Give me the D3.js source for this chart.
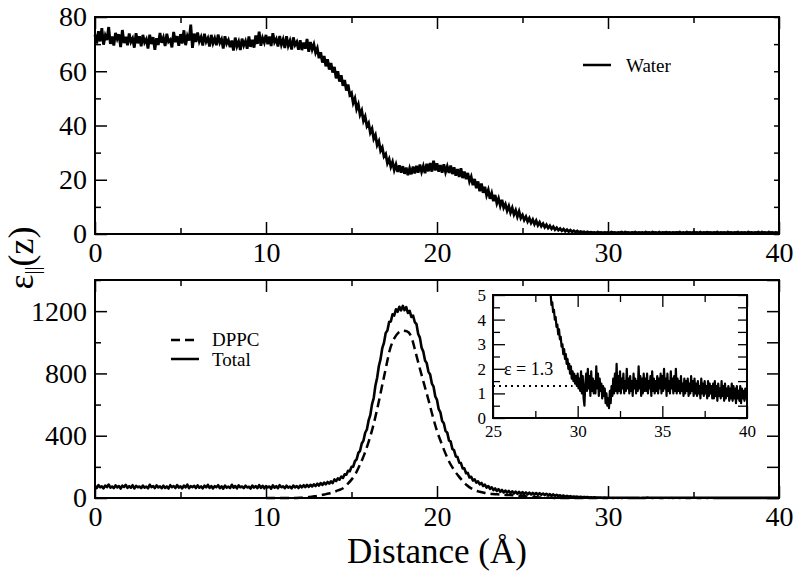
<!DOCTYPE html>
<html><head><meta charset="utf-8">
<script src="https://cdn.jsdelivr.net/npm/d3@7"></script>
<style>
body{margin:0;background:#fff}
svg{display:block}
</style>
</head><body>
<svg id="c" width="800" height="577" font-family="'Liberation Serif','DejaVu Serif','Times New Roman',serif"></svg>
<script>
// ---------- DATA ----------
// Water epsilon_parallel(z), sampled from z = 0 with step 0.1 Å
const waterStart = 0, waterStep = 0.1;
const waterValues = [
73.5,70.2,74.8,71.0,75.9,69.8,73.2,71.5,76.3,70.1,
72.8,69.5,74.1,71.9,73.6,68.9,75.2,70.4,72.7,69.6,
73.9,70.8,72.1,68.7,74.0,70.3,72.9,69.2,73.4,70.6,
71.8,68.4,73.5,70.0,72.6,67.9,72.2,69.7,74.1,70.5,
72.4,69.3,73.8,70.9,71.6,68.8,74.5,70.7,72.9,69.4,
73.7,70.2,75.1,69.6,73.0,71.3,77.2,68.6,73.9,70.8,
74.3,71.0,72.6,69.5,73.8,70.9,72.2,69.1,73.4,70.3,
72.1,69.6,73.5,70.5,71.8,68.4,72.9,70.2,71.5,68.9,
71.3,67.6,72.4,69.2,70.9,67.8,72.0,69.5,71.1,68.3,
72.8,69.0,71.6,68.7,73.2,70.1,74.6,69.4,72.3,70.6,
73.4,70.0,72.8,69.3,74.0,70.7,71.9,69.1,73.0,69.8,
71.7,68.6,72.9,69.4,71.2,68.0,72.5,69.7,70.8,67.9,
71.4,67.8,70.6,68.3,71.9,67.2,70.8,68.0,69.9,66.9,
68.5,64.8,67.0,63.2,65.6,61.8,64.4,60.6,63.0,59.5,
61.6,57.4,60.0,56.2,58.5,54.6,56.8,52.9,55.1,51.3,
52.0,48.3,50.0,46.1,47.8,44.0,45.5,41.7,43.3,39.8,
40.9,37.4,38.8,35.1,36.5,32.8,34.2,30.7,31.9,28.6,
29.5,26.1,27.6,24.8,26.6,23.6,25.6,22.9,25.3,22.6,
25.0,22.2,24.5,21.7,24.2,22.0,24.9,22.3,25.1,22.6,
25.6,22.9,25.0,22.4,25.9,23.1,26.2,23.0,27.0,23.4,
26.1,23.0,25.4,22.6,25.7,22.8,24.9,22.5,25.2,22.1,
24.6,21.5,23.9,21.0,24.2,20.6,23.0,20.2,22.5,19.4,
21.1,18.0,20.3,16.9,19.4,15.8,18.6,15.2,17.4,14.3,
16.2,13.0,15.0,12.1,14.4,11.3,13.1,10.4,12.6,9.7,
11.0,8.6,10.3,7.9,9.6,7.2,8.7,6.4,8.3,5.9,
7.0,5.2,6.4,4.6,5.8,4.1,5.3,3.6,4.9,3.2,
4.3,2.9,3.8,2.5,3.4,2.2,3.0,1.9,2.7,1.6,
2.3,1.4,2.0,1.2,1.8,1.0,1.6,0.9,1.4,0.8,
1.2,0.7,1.1,0.6,0.9,0.6,0.8,0.5,0.8,0.5,
0.7,0.5,0.6,0.4,0.7,0.5,0.6,0.4,0.6,0.5,
0.6,0.4,0.7,0.5,0.6,0.4,0.6,0.5,0.7,0.4,
0.7,0.5,0.6,0.4,0.6,0.5,0.7,0.4,0.6,0.5,
0.6,0.4,0.7,0.5,0.6,0.4,0.7,0.5,0.6,0.4,
0.7,0.4,0.6,0.5,0.7,0.5,0.6,0.4,0.6,0.5,
0.6,0.5,0.7,0.4,0.6,0.4,0.7,0.5,0.6,0.4,
0.7,0.5,0.6,0.4,0.7,0.4,0.6,0.5,0.7,0.5,
0.6,0.4,0.6,0.5,0.7,0.4,0.6,0.5,0.6,0.4,
0.7,0.5,0.6,0.4,0.6,0.5,0.7,0.4,0.6,0.5,
0.6,0.4,0.7,0.5,0.6,0.4,0.6,0.5,0.7,0.4,
0.7,0.5,0.6,0.4,0.7,0.5,0.6,0.4,0.6,0.5,
0.5];

// Total epsilon_parallel(z), from z = 0 with step 0.1 Å
const totalStart = 0, totalStep = 0.1;
const totalValues = [
78,64,83,69,75,62,80,70,86,66,
74,63,81,68,77,60,79,71,84,65,
76,66,82,61,78,69,74,63,80,67,
73,62,85,70,76,64,81,68,75,63,
79,65,74,61,82,69,77,64,83,67,
75,62,80,68,86,63,76,70,78,64,
81,66,74,62,79,68,84,65,77,61,
76,69,82,63,75,60,80,67,73,64,
85,66,77,62,81,69,74,63,79,68,
72,61,80,67,76,64,83,65,78,62,
77,68,74,60,81,66,76,63,82,69,
75,63,79,67,73,62,80,68,77,64,
80,68,82,70,84,72,85,74,88,77,
92,80,96,84,99,88,103,92,107,96,
119,108,126,118,137,129,152,149,175,172,
200,201,236,248,290,303,350,369,419,440,
498,532,602,642,723,772,848,892,963,997,
1060,1075,1130,1133,1180,1172,1212,1196,1228,1205,
1234,1206,1226,1188,1202,1163,1172,1130,1117,1053,
1030,965,940,883,866,810,793,735,715,652,
630,570,550,495,480,430,420,370,362,315,
306,267,263,227,224,190,190,159,161,132,
136,112,120,99,107,88,97,77,86,67,
77,59,69,51,62,45,57,40,52,36,
48,35,45,31,43,29,41,27,39,26,
38,26,36,24,35,23,33,22,32,21,
31,21,29,19,27,17,25,15,23,14,
20,12,18,10,16,9,14,8,12,7,
10,6,9,5,8,4.5,7,4,6,3.5,
4.5,3,4,2.5,3.5,2.2,3,2,2.6,1.8,
1.8,1.2,1.9,1.0,1.5,1.7,1.1,2.0,0.9,1.8,
1.2,2.1,1.0,1.6,1.1,1.4,0.9,1.2,0.7,0.4,
1.0,1.5,1.1,2.2,1.2,1.9,1.0,1.7,1.2,2.0,
1.1,1.6,1.0,1.8,1.2,1.5,1.1,2.1,1.0,1.6,
1.3,1.8,1.0,1.5,1.2,1.9,0.9,1.6,1.1,1.7,
1.2,2.0,1.1,1.6,0.9,1.8,1.2,1.5,1.0,2.1,
1.2,1.7,0.9,1.5,1.1,1.6,1.0,1.4,0.9,1.7,
1.1,1.5,0.9,1.6,1.0,1.4,0.8,1.5,1.0,1.3,
0.8,1.5,1.0,1.4,0.7,1.3,0.9,1.6,0.8,1.2,
0.9,1.4,0.7,1.3,0.8,1.2,0.6,1.3,0.9,1.1,
0.9];

// DPPC contribution, from z = 10 with step 0.25 Å
const dppcStart = 10, dppcStep = 0.25;
const dppcValues = [
0,0,0,0,0,0,0,0,
1,3,6,10,14,19,25,31,40,50,
62,88,118,158,215,280,360,455,570,700,
830,955,1025,1062,1075,1070,1035,935,830,730,
630,525,430,355,285,225,180,142,110,82,
62,48,40,34,30,26,24,22,20,19,
17,15,12,10,8,6,4,3,2,1,
0,0,0,0,0,0,0,0,0,0,0,0,0];

// Inset: total epsilon near the far end, from z = 28.2 with step 0.05 Å
const insetStart = 28.2, insetStep = 0.05;
const insetValues = [
5.8,5.4,5.2,5.0,5.1,4.6,4.7,4.3,4.4,4.0,4.1,3.7,3.8,3.4,3.6,3.2,
3.3,2.9,3.0,2.6,2.8,2.4,2.6,2.2,2.4,2.0,2.2,1.8,2.1,1.6,1.9,1.5,1.8,1.4,1.7,1.3,
1.8,1.2,1.6,1.1,1.9,1.0,1.7,0.8,0.5,1.4,1.8,1.1,2.0,1.2,1.7,0.9,1.9,1.1,1.6,1.0,
1.5,1.0,2.1,1.2,1.8,0.9,1.6,1.1,1.4,0.8,1.3,0.9,1.2,0.6,1.0,0.5,0.8,0.4,1.1,0.6,
1.3,0.9,1.6,1.0,1.8,1.1,2.2,1.0,1.7,1.1,1.9,1.0,1.6,1.2,1.8,1.0,1.5,1.1,2.0,1.2,
1.6,1.0,1.7,1.1,1.5,0.9,1.8,1.2,1.6,1.0,1.5,1.1,2.1,1.2,1.7,0.9,1.6,1.0,1.8,1.1,
1.6,1.1,1.8,1.0,1.5,1.2,1.7,0.9,1.9,1.1,1.6,1.0,1.5,1.1,1.7,1.0,1.6,1.2,1.8,1.0,
1.7,1.1,2.0,1.2,1.6,0.9,1.8,1.1,1.5,1.0,1.9,1.2,1.6,1.0,1.7,1.1,2.0,1.0,1.6,1.1,
1.5,1.0,1.7,1.1,1.4,0.9,1.6,1.0,1.5,1.1,1.6,0.9,1.4,1.0,1.7,1.1,1.5,0.9,1.6,1.0,
1.4,0.9,1.5,1.0,1.3,0.8,1.6,1.0,1.4,0.9,1.5,1.0,1.3,0.8,1.5,0.9,1.4,1.0,1.3,0.8,
1.4,0.8,1.5,0.9,1.3,0.7,1.4,0.9,1.2,0.8,1.5,0.9,1.3,0.7,1.4,0.8,1.2,0.9,1.3,0.7,
1.2,0.8,1.4,0.7,1.3,0.8,1.2,0.6,1.3,0.8,1.1,0.7,1.3,0.6,1.2,0.8,1.1,0.7,1.2,0.8,
0.9];
const epsilonBulk = 1.3;
const epsilonLineEnd = 29.7;

// Tick labels
const xTicks = [0,10,20,30,40];
const xMinorTicks = [5,15,25,35];
const topYTicks = [0,20,40,60,80];
const topYMinor = [10,30,50,70];
const botYTicks = [0,400,800,1200];
const botYMinor = [200,600,1000,1400];
const insetXTicks = [25,30,35,40];
const insetXMinor = [27.5,32.5,37.5];
const insetYTicks = [0,1,2,3,4,5];
const insetYMinor = [0.5,1.5,2.5,3.5,4.5];

const legendTop = ["Water"];
const legendBottom = ["DPPC","Total"];
const xTitle = "Distance (Å)";

// ---------- DRAW ----------
const FONT = "'Liberation Serif','DejaVu Serif','Times New Roman',serif";
const svg = d3.select("#c");
svg.append("rect").attr("width",800).attr("height",577).attr("fill","#fff");

const toPts = (start, step, vals) => vals.map((v,i)=>[start+i*step, v]);

function frameAxes(x, y, o){
  const [x0,x1] = x.range(), [y0,y1] = y.range();
  const g = svg.append("g");
  const mk = (axis, tr, vals, len, lab) => {
    const a = g.append("g").attr("transform", tr)
      .call(axis.tickValues(vals).tickSize(-len).tickPadding(lab ? o.pad : 0)
        .tickFormat(lab ? d3.format("d") : () => ""));
    a.select(".domain").remove();
    a.selectAll("line").attr("stroke","#000").attr("stroke-width",o.tw);
    a.attr("font-size", o.fs).attr("font-family", FONT);
    a.selectAll("text").attr("fill","#000");
    return a;
  };
  mk(d3.axisBottom(x), `translate(0,${y0})`, o.xt, o.maj, true);
  mk(d3.axisBottom(x), `translate(0,${y0})`, o.xm, o.min, false);
  mk(d3.axisTop(x), `translate(0,${y1})`, o.xt, o.maj, false);
  mk(d3.axisTop(x), `translate(0,${y1})`, o.xm, o.min, false);
  mk(d3.axisLeft(y), `translate(${x0},0)`, o.yt, o.maj, true);
  mk(d3.axisLeft(y), `translate(${x0},0)`, o.ym, o.min, false);
  mk(d3.axisRight(y), `translate(${x1},0)`, o.yt, o.rmaj, false);
  mk(d3.axisRight(y), `translate(${x1},0)`, o.ym, o.rmin, false);
  g.append("rect").attr("x",x0).attr("y",y1).attr("width",x1-x0).attr("height",y0-y1)
    .attr("fill","none").attr("stroke","#000").attr("stroke-width",o.fw);
  return g;
}

// ----- Top panel -----
const xTop = d3.scaleLinear().domain([0,40]).range([95,779]);
const yTop = d3.scaleLinear().domain([0,80]).range([234,17]);
svg.append("path").datum(toPts(waterStart, waterStep, waterValues))
  .attr("d", d3.line().x(d=>xTop(d[0])).y(d=>yTop(d[1])))
  .attr("fill","none").attr("stroke","#000")
  .attr("stroke-width",2.8).attr("stroke-linejoin","miter");
frameAxes(xTop, yTop, {xt:xTicks, xm:xMinorTicks, yt:topYTicks, ym:topYMinor,
  maj:12, min:6, rmaj:5, rmin:5, pad:8, fs:28, tw:1.5, fw:2});

// legend top
svg.append("line").attr("x1",583).attr("x2",611).attr("y1",65).attr("y2",65)
  .attr("stroke","#000").attr("stroke-width",2.5);
svg.append("text").attr("x",626).attr("y",72).attr("font-size",19).text(legendTop[0]);

// ----- Bottom panel -----
const xBot = d3.scaleLinear().domain([0,40]).range([95,779]);
const yBot = d3.scaleLinear().domain([0,1400]).range([498,280]);
svg.append("path").datum(toPts(dppcStart, dppcStep, dppcValues))
  .attr("d", d3.line().x(d=>xBot(d[0])).y(d=>yBot(d[1])).curve(d3.curveMonotoneX))
  .attr("fill","none").attr("stroke","#000")
  .attr("stroke-width",2.5).attr("stroke-dasharray","9,5");
svg.append("path").datum(toPts(totalStart, totalStep, totalValues))
  .attr("d", d3.line().x(d=>xBot(d[0])).y(d=>yBot(d[1])))
  .attr("fill","none").attr("stroke","#000")
  .attr("stroke-width",2.6).attr("stroke-linejoin","round");
frameAxes(xBot, yBot, {xt:xTicks, xm:xMinorTicks, yt:botYTicks, ym:botYMinor,
  maj:12, min:6, rmaj:12, rmin:12, pad:8, fs:28, tw:1.5, fw:2});

// legend bottom
svg.append("line").attr("x1",171).attr("x2",199).attr("y1",340).attr("y2",340)
  .attr("stroke","#000").attr("stroke-width",2.5).attr("stroke-dasharray","9,5");
svg.append("text").attr("x",212).attr("y",346).attr("font-size",19).text(legendBottom[0]);
svg.append("line").attr("x1",171).attr("x2",199).attr("y1",359).attr("y2",359)
  .attr("stroke","#000").attr("stroke-width",2.5);
svg.append("text").attr("x",212).attr("y",366).attr("font-size",19).text(legendBottom[1]);

// ----- Inset -----
const xIn = d3.scaleLinear().domain([25,40]).range([493,747]);
const yIn = d3.scaleLinear().domain([0,5]).range([418,295]);
svg.append("rect").attr("x",493).attr("y",295).attr("width",254).attr("height",123).attr("fill","#fff");
svg.append("clipPath").attr("id","inclip").append("rect")
  .attr("x",493).attr("y",295).attr("width",254).attr("height",123);
svg.append("line").attr("x1",xIn(25)).attr("x2",xIn(epsilonLineEnd))
  .attr("y1",yIn(epsilonBulk)).attr("y2",yIn(epsilonBulk))
  .attr("stroke","#000").attr("stroke-width",2).attr("stroke-dasharray","2,4");
svg.append("path").datum(toPts(insetStart, insetStep, insetValues))
  .attr("clip-path","url(#inclip)")
  .attr("d", d3.line().x(d=>xIn(d[0])).y(d=>yIn(d[1])))
  .attr("fill","none").attr("stroke","#000")
  .attr("stroke-width",2.2).attr("stroke-linejoin","round");
frameAxes(xIn, yIn, {xt:insetXTicks, xm:insetXMinor, yt:insetYTicks, ym:insetYMinor,
  maj:12, min:7, rmaj:9, rmin:9, pad:7, fs:17, tw:1.3, fw:2});
svg.append("text").attr("x",504).attr("y",375).attr("font-size",18).text("ε = " + epsilonBulk);

// ----- Axis titles -----
svg.append("text").attr("x",437).attr("y",563).attr("text-anchor","middle")
  .attr("font-size",35).text(xTitle);
const yt = svg.append("text").attr("transform","translate(33,258) rotate(-90)")
  .attr("text-anchor","middle").attr("font-size",36);
yt.append("tspan").text("ε");
yt.append("tspan").attr("font-size",20).attr("dy",6).text("||");
yt.append("tspan").attr("dy",-6).text("(z)");
</script>
</body></html>
